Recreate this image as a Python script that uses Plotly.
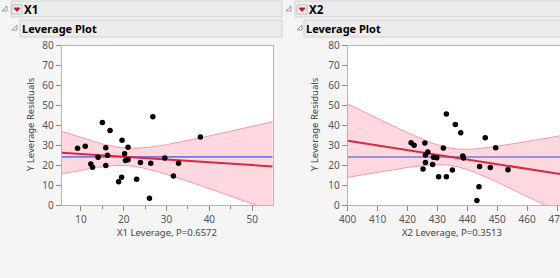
import numpy as np
import plotly.graph_objects as go

W, H = 560, 278

# ---------------- data ----------------
x1_lev = [9.2, 11.0, 12.3, 12.7, 14.0, 15.0, 15.8, 15.8, 16.2, 16.8, 18.8, 19.5, 19.6,
          20.2, 20.4, 21.0, 21.0, 23.9, 23.0, 26.0, 26.3, 26.8, 29.6, 31.6, 32.8, 37.9]
y1_res = [28.5, 29.5, 20.6, 19.0, 24.0, 41.5, 28.8, 19.8, 25.0, 37.5, 11.7, 14.0, 32.5,
          25.8, 22.3, 29.0, 22.8, 21.3, 13.0, 3.4, 21.0, 44.4, 23.6, 14.6, 21.0, 34.2]

x2_lev = [421.2, 422.2, 425.8, 426.0, 426.8, 426.0, 425.2, 428.4, 428.7, 429.8, 430.4, 432.0, 433.0,
          433.0, 435.0, 436.0, 437.8, 438.5, 438.7, 443.2, 443.9, 444.1, 446.0, 447.7, 449.5, 453.6]
y2_res = [31.3, 30.0, 31.2, 25.1, 26.6, 21.4, 18.1, 20.4, 24.0, 23.8, 14.2, 28.6, 45.7,
          14.2, 17.6, 40.5, 36.3, 24.6, 23.6, 2.2, 9.2, 19.4, 33.8, 18.8, 28.8, 17.7]

fit1_slope, band1_h0, band1_k = -0.14, 4.4, 0.644
fit2_slope, band2_h0, band2_k = -0.236, 4.3, 0.516

panel_titles = ["X1", "X2"]
section_title = "Leverage Plot"
x1_title = "X1 Leverage, P=0.6572"
x2_title = "X2 Leverage, P=0.3513"
y_title = "Y Leverage Residuals"
y_ticks = [0, 10, 20, 30, 40, 50, 60, 70, 80]
x1_ticks = [10, 20, 30, 40, 50]
x2_ticks = [400, 410, 420, 430, 440, 450, 460, 470]

x1_range = [5.5, 54.8]
x2_range = [400, 471]
y_range = [0, 80]

# ---------------- helpers ----------------
def px(x):
    return x / W

def py(y):
    return 1 - y / H

FONT = "Noto Sans"
TICKC = "#555555"
BAND_FILL = "rgba(250,170,185,0.45)"
BAND_LINE = "#f09aac"
FIT_C = "#d42a45"
MEAN_C = "#7a78d8"

fig = go.Figure()

def add_panel(xs, ys, slope, h0, k, xr, xa, ya):
    xs = np.array(xs); ys = np.array(ys)
    xbar, ybar = xs.mean(), ys.mean()
    gx = np.linspace(xr[0], xr[1], 200)
    fit = ybar + slope * (gx - xbar)
    hw = np.sqrt(h0 ** 2 + (k * (gx - xbar)) ** 2)
    up, lo = fit + hw, fit - hw
    fig.add_trace(go.Scatter(x=np.concatenate([gx, gx[::-1]]), y=np.concatenate([up, lo[::-1]]),
                             fill="toself", fillcolor=BAND_FILL, line=dict(width=0),
                             mode="lines", hoverinfo="skip", xaxis=xa, yaxis=ya, showlegend=False))
    fig.add_trace(go.Scatter(x=gx, y=up, mode="lines", line=dict(color=BAND_LINE, width=1),
                             xaxis=xa, yaxis=ya, showlegend=False))
    fig.add_trace(go.Scatter(x=gx, y=lo, mode="lines", line=dict(color=BAND_LINE, width=1),
                             xaxis=xa, yaxis=ya, showlegend=False))
    fig.add_trace(go.Scatter(x=[xr[0], xr[1]], y=[ybar, ybar], mode="lines",
                             line=dict(color=MEAN_C, width=1.6), xaxis=xa, yaxis=ya, showlegend=False))
    fig.add_trace(go.Scatter(x=gx, y=fit, mode="lines", line=dict(color=FIT_C, width=2),
                             xaxis=xa, yaxis=ya, showlegend=False))
    fig.add_trace(go.Scatter(x=xs, y=ys, mode="markers", marker=dict(color="black", size=5.5),
                             xaxis=xa, yaxis=ya, showlegend=False, cliponaxis=False))

add_panel(x1_lev, y1_res, fit1_slope, band1_h0, band1_k, x1_range, "x", "y")
add_panel(x2_lev, y2_res, fit2_slope, band2_h0, band2_k, x2_range, "x2", "y2")

y_dom = [py(205), py(45.8)]
axis_common = dict(showgrid=False, zeroline=False, showline=True, linecolor="#b5b5b5", linewidth=1,
                   mirror=True, ticks="outside", ticklen=5, tickcolor="#8a8a8a",
                   automargin=False, ticklabeloverflow="allow", showticklabels=True,
                   tickfont=dict(family=FONT, size=10, color=TICKC))

fig.update_layout(
    width=W, height=H, margin=dict(l=0, r=0, t=0, b=0, pad=0, autoexpand=False),
    paper_bgcolor="#f5f5f5", plot_bgcolor="white",
    xaxis=dict(domain=[px(61.7), px(272.7)], range=x1_range, tickvals=x1_ticks, anchor="y",
               minor=dict(dtick=5, tick0=0, ticks="outside", ticklen=3, tickcolor="#8a8a8a"),
               **axis_common),
    yaxis=dict(domain=y_dom, range=y_range, tickvals=y_ticks, anchor="x", **axis_common),
    xaxis2=dict(domain=[px(347.7), 1.0], range=x2_range, tickvals=x2_ticks, anchor="y2", **axis_common),
    yaxis2=dict(domain=y_dom, range=y_range, tickvals=y_ticks, anchor="x2", **axis_common),
)

shapes = []
annotations = []

def rect(x0, y0, x1, y1, fill, line="#d2d2d2"):
    shapes.append(dict(type="rect", xref="paper", yref="paper", x0=px(x0), x1=px(x1), y0=py(y1), y1=py(y0),
                       fillcolor=fill, line=dict(color=line, width=1), layer="below"))

def tri(x, y):
    # disclosure triangle (pointing down-right)
    path = f"M {px(x+5)},{py(y)} L {px(x+5)},{py(y+5)} L {px(x)},{py(y+5)} Z"
    shapes.append(dict(type="path", xref="paper", yref="paper", path=path,
                       line=dict(color="#9a9a9a", width=1), fillcolor="rgba(0,0,0,0)"))

def red_button(x, y):
    rect(x, y, x + 10, y + 9, "#f4f4f4", "#bdbdbd")
    path = f"M {px(x+2)},{py(y+3)} L {px(x+8)},{py(y+3)} L {px(x+5)},{py(y+6.5)} Z"
    shapes.append(dict(type="path", xref="paper", yref="paper", path=path,
                       line=dict(color="#d0101e", width=1), fillcolor="#d0101e"))

def text(x, y, s, size=12, bold=False, color="black", anchor="left", angle=0):
    annotations.append(dict(xref="paper", yref="paper", x=px(x), y=py(y), text=f"<b>{s}</b>" if bold else s,
                            showarrow=False, xanchor=anchor, yanchor="middle", textangle=angle,
                            borderpad=0, font=dict(family=FONT, size=size, color=color)))

# left panel headers
rect(11, 1, 282, 17, "#ececec")
tri(2, 6)
red_button(12, 5)
text(23, 9.5, panel_titles[0], size=11.5, bold=True)
rect(20, 20, 282, 37, "#ececec")
tri(12, 25)
text(21, 28.5, section_title, size=11, bold=True)

# right panel headers
rect(295, 1, 561, 17, "#ececec")
tri(286, 6)
red_button(297, 5)
text(308, 9.5, panel_titles[1], size=11.5, bold=True)
rect(304, 20, 561, 37, "#ececec")
tri(297, 25)
text(305, 28.5, section_title, size=11, bold=True)

# axis titles
text(167, 232, x1_title, size=9.5, color="#444444", anchor="center")
text(452, 232, x2_title, size=9.5, color="#444444", anchor="center")
text(30, 124, y_title, size=9.5, color="#444444", anchor="center", angle=-90)
text(314, 124, y_title, size=9.5, color="#444444", anchor="center", angle=-90)

fig.update_layout(shapes=shapes, annotations=annotations)
fig.write_html("out.html")
